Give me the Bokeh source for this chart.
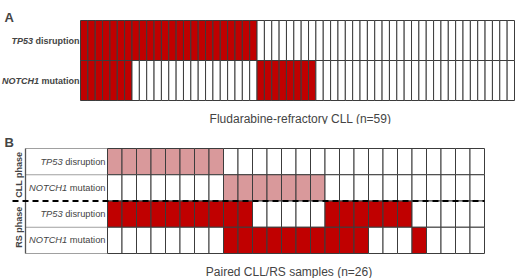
import math
from bokeh.plotting import figure
from bokeh.layouts import column
from bokeh.models import Range1d, Label, ColumnDataSource
from bokeh.embed import file_html
from bokeh.resources import INLINE

# ---------------- data ----------------
# Panel A: fludarabine-refractory CLL, 59 cases (1 = altered)
a_genes = ["TP53", "NOTCH1"]
a_kinds = ["disruption", "mutation"]
a_tp53 = [1, 1, 1, 1, 1, 1, 1, 1, 1, 1, 1, 1, 1, 1, 1, 1, 1, 1, 1, 1, 1, 1, 1, 1,
          0, 0, 0, 0, 0, 0, 0, 0, 0, 0, 0, 0, 0, 0, 0, 0, 0, 0, 0, 0, 0, 0, 0, 0,
          0, 0, 0, 0, 0, 0, 0, 0, 0, 0, 0]
a_notch1 = [1, 1, 1, 1, 1, 1, 1, 0, 0, 0, 0, 0, 0, 0, 0, 0, 0, 0, 0, 0, 0, 0, 0, 0,
            1, 1, 1, 1, 1, 1, 1, 1, 0, 0, 0, 0, 0, 0, 0, 0, 0, 0, 0, 0, 0, 0, 0, 0,
            0, 0, 0, 0, 0, 0, 0, 0, 0, 0, 0]
a_title = "Fludarabine-refractory CLL (n=59)"

# Panel B: paired CLL / RS samples, 26 cases
b_genes = ["TP53", "NOTCH1", "TP53", "NOTCH1"]
b_kinds = ["disruption", "mutation", "disruption", "mutation"]
b_phase = ["CLL phase", "RS phase"]
b_cll_tp53 = [1, 1, 1, 1, 1, 1, 1, 1, 0, 0, 0, 0, 0, 0, 0, 0, 0, 0, 0, 0, 0, 0, 0, 0, 0, 0]
b_cll_notch1 = [0, 0, 0, 0, 0, 0, 0, 0, 1, 1, 1, 1, 1, 1, 1, 0, 0, 0, 0, 0, 0, 0, 0, 0, 0, 0]
b_rs_tp53 = [1, 1, 1, 1, 1, 1, 1, 1, 1, 1, 0, 0, 0, 0, 0, 1, 1, 1, 1, 1, 1, 0, 0, 0, 0, 0]
b_rs_notch1 = [0, 0, 0, 0, 0, 0, 0, 0, 1, 1, 1, 1, 1, 1, 1, 1, 1, 1, 0, 0, 0, 1, 0, 0, 0, 0]
b_title = "Paired CLL/RS samples (n=26)"

# ---------------- style ----------------
RED = "#c00000"
PINK = "#d9999b"
WHITE = "#ffffff"
EDGE = "#3c3c3c"
FONT = "Liberation Sans"
W = 520

REG = {" ": 278, "a": 556, "d": 556, "i": 222, "m": 833, "n": 556, "o": 556,
       "p": 556, "r": 333, "s": 500, "t": 278, "u": 556}
BLD = {" ": 278, "a": 556, "d": 611, "i": 278, "m": 889, "n": 611, "o": 611,
       "p": 611, "r": 389, "s": 556, "t": 333, "u": 611}


def tw(s, size, bold):
    tab = BLD if bold else REG
    return sum(tab.get(c, 556) for c in s) / 1000.0 * size


def make_fig(h, left_px, right_px, ncols, top_px, rowh):
    colw = (right_px - left_px) / ncols
    xr = Range1d(-left_px / colw, (W - left_px) / colw)
    yr = Range1d((h - top_px) / rowh, -top_px / rowh)
    p = figure(width=W, height=h, x_range=xr, y_range=yr, x_axis_type=None,
               y_axis_type=None, toolbar_location=None, output_backend="svg",
               min_border=0, outline_line_color=None)
    p.xgrid.visible = False
    p.ygrid.visible = False
    p.background_fill_color = "white"
    p.border_fill_color = "white"
    return p, colw


def add_cells(p, rows, colors_on):
    L, R, T, B, C = [], [], [], [], []
    for r, vals in enumerate(rows):
        for i, v in enumerate(vals):
            L.append(i); R.append(i + 1); T.append(r); B.append(r + 1)
            C.append(colors_on[r] if v else WHITE)
    src = ColumnDataSource(dict(left=L, right=R, top=T, bottom=B, color=C))
    p.quad(left="left", right="right", top="top", bottom="bottom", source=src,
           fill_color="color", line_color=EDGE, line_width=1)


# ---------------- panel A ----------------
HA = 124
A_LEFT, A_RIGHT, A_TOP, A_ROWH = 80, 514, 20, 40
pa, cwa = make_fig(HA, A_LEFT, A_RIGHT, len(a_tp53), A_TOP, A_ROWH)
add_cells(pa, [a_tp53, a_notch1], [RED, RED])

def xa(fx):
    return (fx - A_LEFT) / cwa

def ya(fy):
    return (fy - A_TOP) / A_ROWH

pa.add_layout(Label(x=xa(4), y=ya(17), text="A", text_font=FONT,
                    text_font_size="13px", text_font_style="bold",
                    text_align="left", text_baseline="alphabetic"))
for r, (g, k) in enumerate(zip(a_genes, a_kinds)):
    suf = " " + k
    pa.add_layout(Label(x=0, y=r + 0.5, x_offset=-1, text=k, text_font=FONT,
                        text_font_size="9px", text_font_style="bold",
                        text_align="right", text_baseline="middle"))
    pa.add_layout(Label(x=0, y=r + 0.5, x_offset=-1 - tw(suf, 9, True), text=g,
                        text_font=FONT, text_font_size="9px",
                        text_font_style="bold italic",
                        text_align="right", text_baseline="middle"))
pa.add_layout(Label(x=xa(300), y=ya(118), text=a_title,
                    text_font=FONT, text_font_size="12px", text_align="center",
                    text_baseline="alphabetic"))

# ---------------- panel B ----------------
HB = 154
B_LEFT, B_RIGHT, B_TOP, B_ROWH = 107, 484, 24, 26.25
pb, cwb = make_fig(HB, B_LEFT, B_RIGHT, len(b_cll_tp53), B_TOP, B_ROWH)

def xb(fx):
    return (fx - B_LEFT) / cwb

def yb(fy):
    return (fy - B_TOP) / B_ROWH

# header lines
for r in [0, 1, 3, 4]:
    pb.line(x=[xb(25), 0], y=[r, r], line_color="#a0a0a0", line_width=1)
pb.line(x=[xb(25), xb(25)], y=[0, 4], line_color="#555555", line_width=1.3)

add_cells(pb, [b_cll_tp53, b_cll_notch1, b_rs_tp53, b_rs_notch1],
          [PINK, PINK, RED, RED])

# phase separator
pb.line(x=[xb(12), len(b_cll_tp53)], y=[2, 2], line_color="black", line_width=2.2,
        line_dash="6 4")

pb.add_layout(Label(x=xb(4), y=yb(18), text="B", text_font=FONT,
                    text_font_size="13px", text_font_style="bold",
                    text_align="left", text_baseline="alphabetic"))
for i, ph in enumerate(b_phase):
    pb.add_layout(Label(x=xb(18.5), y=2 * i + 1, text=ph, angle=math.pi / 2,
                        text_font=FONT, text_font_size="9px",
                        text_font_style="bold", text_align="center",
                        text_baseline="middle"))
BS = 9.3
for r, (g, k) in enumerate(zip(b_genes, b_kinds)):
    suf = " " + k
    pb.add_layout(Label(x=0, y=r + 0.5, x_offset=-2, text=k, text_font=FONT,
                        text_font_size=f"{BS}px", text_align="right",
                        text_baseline="middle"))
    pb.add_layout(Label(x=0, y=r + 0.5, x_offset=-2 - tw(suf, BS, False), text=g,
                        text_font=FONT, text_font_size=f"{BS}px",
                        text_font_style="italic",
                        text_align="right", text_baseline="middle"))
pb.add_layout(Label(x=xb(288.5), y=yb(147), text=b_title, text_font=FONT,
                    text_font_size="12px", text_align="center",
                    text_baseline="alphabetic"))

layout = column(pa, pb, spacing=0)
open("out.html", "w").write(file_html(layout, INLINE))
